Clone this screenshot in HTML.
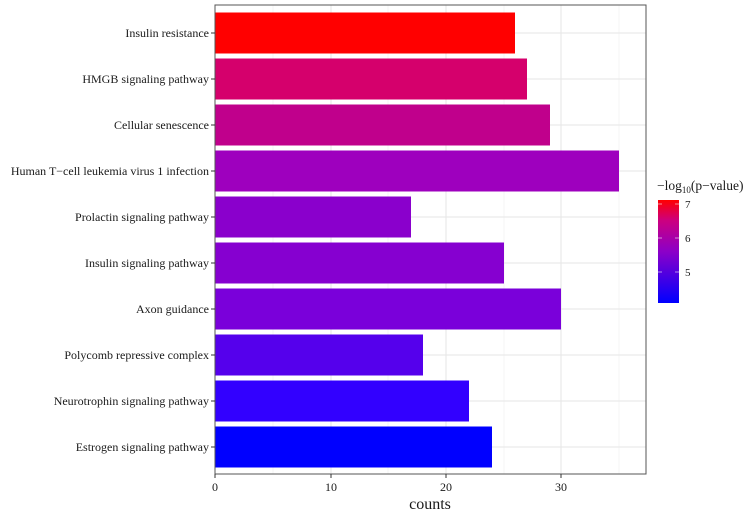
<!DOCTYPE html>
<html><head><style>body{margin:0;background:#fff}svg{display:block}text{font-family:"Liberation Serif",serif;fill:#1a1a1a}</style></head><body>
<svg width="754" height="518" viewBox="0 0 754 518">
<rect x="215" y="5" width="431" height="469" fill="#fff"/>
<g stroke="#f2f2f2" stroke-width="0.7">
<line x1="273" y1="5" x2="273" y2="474"/><line x1="388" y1="5" x2="388" y2="474"/><line x1="504" y1="5" x2="504" y2="474"/><line x1="619" y1="5" x2="619" y2="474"/>
</g>
<g stroke="#e6e6e6" stroke-width="1">
<line x1="331" y1="5" x2="331" y2="474"/><line x1="446" y1="5" x2="446" y2="474"/><line x1="561" y1="5" x2="561" y2="474"/>
<line x1="215" y1="33" x2="646" y2="33"/><line x1="215" y1="79" x2="646" y2="79"/><line x1="215" y1="125" x2="646" y2="125"/><line x1="215" y1="171" x2="646" y2="171"/><line x1="215" y1="217" x2="646" y2="217"/><line x1="215" y1="263" x2="646" y2="263"/><line x1="215" y1="309" x2="646" y2="309"/><line x1="215" y1="355" x2="646" y2="355"/><line x1="215" y1="401" x2="646" y2="401"/><line x1="215" y1="447" x2="646" y2="447"/>
</g>
<rect x="215" y="12.5" width="300" height="41" fill="#FF0000"/>
<rect x="215" y="58.5" width="312" height="41" fill="#D5006C"/>
<rect x="215" y="104.5" width="335" height="41" fill="#C0008C"/>
<rect x="215" y="150.5" width="404" height="41" fill="#9E00BE"/>
<rect x="215" y="196.5" width="196" height="41" fill="#8A00CC"/>
<rect x="215" y="242.5" width="289" height="41" fill="#8600D0"/>
<rect x="215" y="288.5" width="346" height="41" fill="#7A00DA"/>
<rect x="215" y="334.5" width="208" height="41" fill="#5500EC"/>
<rect x="215" y="380.5" width="254" height="41" fill="#3200FF"/>
<rect x="215" y="426.5" width="277" height="41" fill="#0000FF"/>
<rect x="215" y="5" width="431" height="469" fill="none" stroke="#555" stroke-width="1"/>
<g stroke="#333" stroke-width="1">
<line x1="211" y1="33" x2="215" y2="33"/><line x1="211" y1="79" x2="215" y2="79"/><line x1="211" y1="125" x2="215" y2="125"/><line x1="211" y1="171" x2="215" y2="171"/><line x1="211" y1="217" x2="215" y2="217"/><line x1="211" y1="263" x2="215" y2="263"/><line x1="211" y1="309" x2="215" y2="309"/><line x1="211" y1="355" x2="215" y2="355"/><line x1="211" y1="401" x2="215" y2="401"/><line x1="211" y1="447" x2="215" y2="447"/>
<line x1="215" y1="474" x2="215" y2="478"/><line x1="331" y1="474" x2="331" y2="478"/><line x1="446" y1="474" x2="446" y2="478"/><line x1="561" y1="474" x2="561" y2="478"/>
</g>
<g font-size="12" text-anchor="end">
<text x="209" y="37">Insulin resistance</text>
<text x="209" y="83">HMGB signaling pathway</text>
<text x="209" y="129">Cellular senescence</text>
<text x="209" y="175">Human T−cell leukemia virus 1 infection</text>
<text x="209" y="221">Prolactin signaling pathway</text>
<text x="209" y="267">Insulin signaling pathway</text>
<text x="209" y="313">Axon guidance</text>
<text x="209" y="359">Polycomb repressive complex</text>
<text x="209" y="405">Neurotrophin signaling pathway</text>
<text x="209" y="451">Estrogen signaling pathway</text>
</g>
<g font-size="12" text-anchor="middle">
<text x="215" y="491">0</text><text x="331" y="491">10</text><text x="446" y="491">20</text><text x="561" y="491">30</text>
</g>
<text x="430" y="509" font-size="16" text-anchor="middle">counts</text>
<defs><linearGradient id="g" x1="0" y1="1" x2="0" y2="0"><stop offset="0" stop-color="#0000FF"/><stop offset="0.5" stop-color="#8C00C8"/><stop offset="0.8" stop-color="#CC0080"/><stop offset="1" stop-color="#FF0000"/></linearGradient></defs>
<text x="657" y="190" font-size="13.5">−log<tspan font-size="9" dy="3">10</tspan><tspan dy="-3">(p−value)</tspan></text>
<rect x="658" y="200" width="21" height="103" fill="url(#g)"/>
<g stroke="#fff" stroke-width="0.8" opacity="0.7"><line x1="658" y1="204" x2="662" y2="204"/><line x1="675" y1="204" x2="679" y2="204"/><line x1="658" y1="238" x2="662" y2="238"/><line x1="675" y1="238" x2="679" y2="238"/><line x1="658" y1="272" x2="662" y2="272"/><line x1="675" y1="272" x2="679" y2="272"/></g>
<g font-size="11"><text x="685" y="208">7</text><text x="685" y="242">6</text><text x="685" y="276">5</text></g>
</svg>
</body></html>
